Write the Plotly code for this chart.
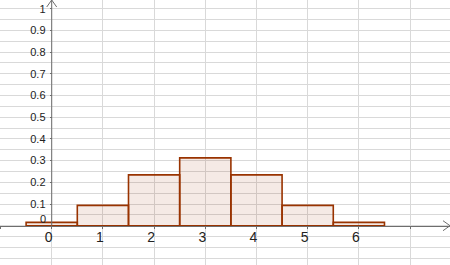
import plotly.graph_objects as go

# Data: binomial distribution histogram (n=6, p=0.5)
k_values = [0, 1, 2, 3, 4, 5, 6]
probabilities = [0.015625, 0.09375, 0.234375, 0.3125, 0.234375, 0.09375, 0.015625]
x_tick_vals = [0, 1, 2, 3, 4, 5, 6]
x_tick_text = ["0", "1", "2", "3", "4", "5", "6"]
y_tick_vals = [0.1, 0.2, 0.3, 0.4, 0.5, 0.6, 0.7, 0.8, 0.9, 1.0]
y_tick_text = ["0.1", "0.2", "0.3", "0.4", "0.5", "0.6", "0.7", "0.8", "0.9", "1"]

W, H = 450, 265
x_range = [-1.01, 7.78]
y_range = [-0.181, 1.040]

x0_paper = (0 - x_range[0]) / (x_range[1] - x_range[0])
y0_paper = (0 - y_range[0]) / (y_range[1] - y_range[0])

axis_col = "#6e6e6e"
grid_col = "#d9d9d9"

fig = go.Figure()
fig.add_trace(go.Scatter(x=[None], y=[None], xaxis="x2", yaxis="y2", showlegend=False))
fig.add_trace(go.Bar(
    x=k_values, y=probabilities, width=1.0,
    marker=dict(color="rgba(153,51,0,0.10)", line=dict(color="#993300", width=1.6)),
    hoverinfo="skip",
))

fig.update_layout(
    width=W, height=H,
    margin=dict(l=0, r=0, t=0, b=0),
    paper_bgcolor="white", plot_bgcolor="white",
    showlegend=False,
    font=dict(family="Liberation Sans, Arial, sans-serif", color="#222222"),
    xaxis=dict(
        range=x_range, anchor="free", position=y0_paper - 1 / H,
        tickmode="array", tickvals=x_tick_vals, ticktext=x_tick_text,
        tickfont=dict(size=14), ticks="",
        ticklabelstandoff=0, ticklabelshift=-3,
        showgrid=False, zeroline=False, showline=False,
        fixedrange=True,
    ),
    xaxis2=dict(
        range=x_range, overlaying="x", anchor="free", position=y0_paper,
        dtick=1, tick0=0, showgrid=True,
        gridcolor=grid_col, gridwidth=1, showticklabels=False, zeroline=False,
        ticks="outside", ticklen=2, tickcolor=axis_col,
        showline=True, linecolor=axis_col, linewidth=1,
    ),
    yaxis=dict(
        range=y_range, anchor="free", position=x0_paper,
        tickmode="array", tickvals=y_tick_vals, ticktext=y_tick_text,
        tickfont=dict(size=11), ticks="outside", ticklen=2, tickcolor=axis_col,
        ticklabelstandoff=2,
        showgrid=False, zeroline=False, showline=False,
        fixedrange=True,
    ),
    yaxis2=dict(
        range=y_range, overlaying="y", dtick=0.05, tick0=0, showgrid=True,
        gridcolor=grid_col, gridwidth=1, showticklabels=False, zeroline=False,
    ),
)

# "0" label on y-axis (offset above the x-axis as in reference)
fig.add_annotation(x=0, y=0, xref="x", yref="y", text="0", showarrow=False,
                   xanchor="right", yanchor="bottom", xshift=-4, yshift=-1,
                   font=dict(size=11, color="#222222"))

# y-axis line from the x-axis up to the top
fig.add_shape(type="line", xref="paper", yref="paper",
              x0=x0_paper, x1=x0_paper, y0=y0_paper, y1=1,
              line=dict(color=axis_col, width=1))

# arrow heads on axes (open chevrons)
fig.add_shape(type="path", xref="paper", yref="paper",
              path=f"M {1-7/W} {y0_paper+5/H} L 1 {y0_paper} L {1-7/W} {y0_paper-5/H}",
              line=dict(color=axis_col, width=1))
fig.add_shape(type="path", xref="paper", yref="paper",
              path=f"M {x0_paper-5/W} {1-7/H} L {x0_paper} 1 L {x0_paper+5/W} {1-7/H}",
              line=dict(color=axis_col, width=1))

fig.write_html("out.html")
